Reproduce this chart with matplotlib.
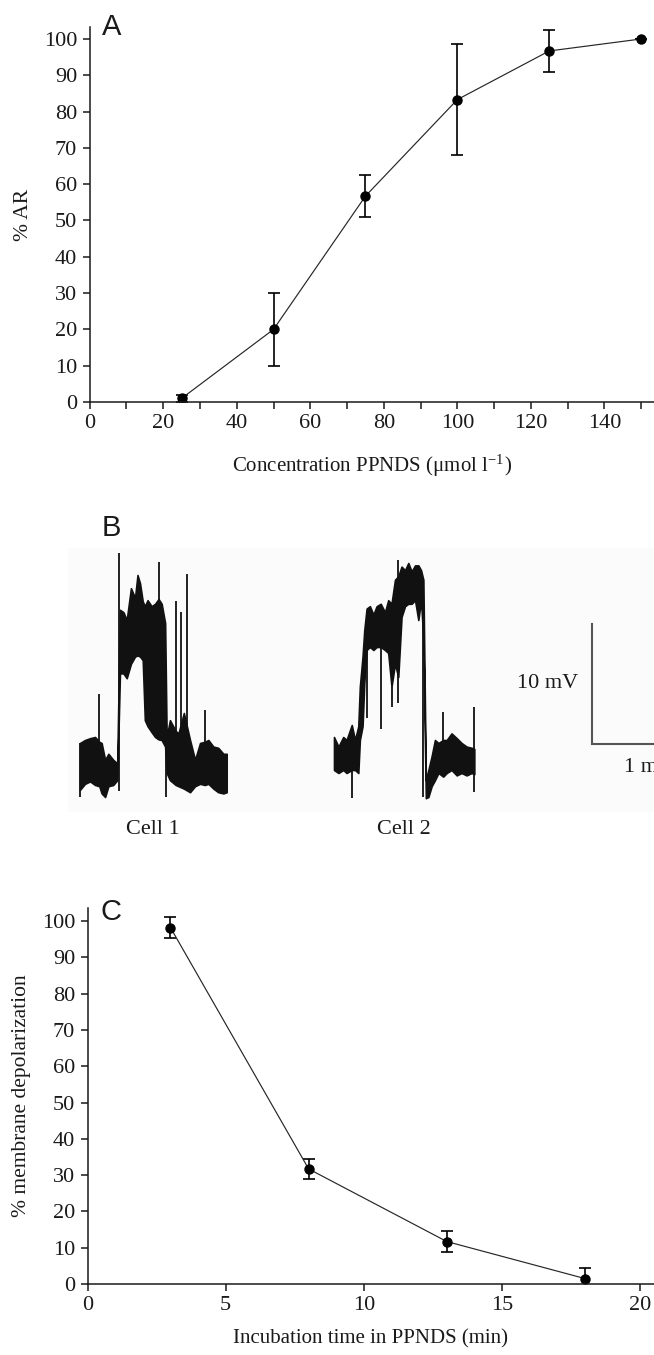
'''
Three panel figure: PPNDS dose response (A), example membrane potential
traces (B) and the effect of incubation time on depolarization (C).
'''

import matplotlib
matplotlib.use('Agg')
import matplotlib.pyplot as plt
from matplotlib.ticker import MultipleLocator

# ---- panel A : % AR vs PPNDS concentration
conc = [25, 50, 75, 100, 125, 150]
ar_pct = [1.0, 20.0, 56.7, 83.3, 96.7, 100.0]
ar_err = [1.0, 10.0, 5.8, 15.2, 5.8, 0.0]

# ---- panel C : % depolarization vs incubation time
inc_time = [3, 8, 13, 18]
depol_pct = [98.2, 31.7, 11.7, 1.5]
depol_err = [2.9, 2.8, 2.9, 2.8]

# ---- panel B : membrane potential traces (time in s, potential in mV)
# envelope of the noisy trace (lower / upper edge) plus single spikes
cell1_t = [0, 2.6, 5.2, 7.8, 10.0, 11.2, 13.0, 14.7, 17.2, 19.3,
	20.7, 22.5, 24.2, 26.4, 28.5, 29.8, 31.1, 32.5, 33.6, 35.0,
	37.1, 38.9, 40.7, 42.3, 44.1, 44.9, 46.6, 49.6, 51.0, 53.8,
	57.0, 59.6, 62.2, 64.7, 66.5, 69.1, 71.6, 74.3, 76.0]
cell1_hi = [4.5, 4.75, 4.9, 5.0, 4.6, 4.5, 3.1, 3.6, 3.1, 2.8,
	15.6, 15.4, 14.75, 17.4, 16.6, 18.5, 17.8, 16.3, 15.9, 16.4,
	15.9, 16.1, 16.5, 16.1, 14.5, 5.0, 6.4, 5.5, 5.3, 7.0,
	4.75, 3.1, 4.5, 4.6, 4.75, 4.2, 4.1, 3.6, 3.6]
cell1_lo = [0.6, 1.1, 1.3, 1.0, 0.9, 0.3, 0.0, 0.9, 1.0, 1.4,
	10.3, 10.3, 9.9, 11.1, 11.7, 11.8, 11.7, 11.4, 6.4, 5.9,
	5.4, 5.0, 4.8, 4.75, 4.2, 2.0, 1.4, 1.0, 0.9, 0.7,
	0.4, 0.9, 1.1, 1.0, 1.1, 0.7, 0.4, 0.3, 0.4]
cell1_spike_t = [0, 10.0, 20.2, 40.7, 44.5, 49.6, 52.3, 55.4, 64.7]
cell1_spike_lo = [0.0, 1.0, 0.5, 5.0, 0.0, 1.0, 1.0, 0.5, 1.1]
cell1_spike_hi = [4.5, 8.6, 20.3, 19.6, 5.0, 16.3, 15.4, 18.6, 7.25]

cell2_t = [0, 2.3, 4.8, 6.5, 9.2, 10.9, 12.6, 13.4, 14.8, 15.7,
	16.9, 18.6, 20.4, 22.1, 24.2, 26.4, 28.1, 29.8, 31.6, 33.3,
	35.0, 36.8, 38.5, 40.2, 42.0, 43.7, 45.1, 46.3, 47.6, 48.9,
	50.6, 52.3, 54.1, 56.6, 58.4, 60.9, 63.6, 66.1, 68.7, 71.3, 72.7]
cell2_hi = [5.0, 4.2, 5.0, 4.75, 6.0, 4.75, 5.9, 9.2, 11.7, 13.9,
	15.7, 15.9, 15.2, 15.9, 16.1, 15.4, 16.4, 16.1, 18.1, 18.4,
	19.2, 18.9, 19.5, 18.8, 19.3, 19.3, 18.9, 18.1, 1.4, 2.25,
	3.4, 4.75, 4.5, 4.75, 4.75, 5.3, 4.9, 4.5, 4.2, 4.1, 4.0]
cell2_lo = [2.25, 2.0, 2.25, 2.0, 2.25, 2.25, 2.0, 4.75, 5.9, 9.5,
	12.25, 12.5, 12.25, 12.5, 12.5, 12.25, 12.0, 9.2, 11.1, 10.0,
	15.0, 15.9, 16.1, 16.1, 16.4, 14.75, 16.4, 13.1, -0.1, 0.0,
	0.9, 1.4, 2.0, 1.7, 2.0, 2.25, 1.8, 2.0, 1.8, 2.0, 1.9]
cell2_spike_t = [9.2, 16.9, 24.2, 29.8, 33.3, 46.3, 56.6, 72.7]
cell2_spike_lo = [-0.1, 6.6, 5.7, 7.5, 7.8, 0.0, 2.0, 0.4]
cell2_spike_hi = [4.0, 12.25, 12.5, 9.2, 19.75, 18.1, 7.1, 7.5]

scale_mv = 10
scale_s = 60
cell_labels = ['Cell 1', 'Cell 2']

# ---- layout (pixels of the 654 x 1355 output)
W, H = 654, 1355
CELL2_OFFSET = 131.6   # s, horizontal gap between the two traces
PX_PER_S = 1.93
PX_PER_MV = 12.0

plt.rcParams['font.family'] = ['Liberation Serif', 'DejaVu Serif']
plt.rcParams['mathtext.fontset'] = 'stix'
TXT = '#1a1a1a'
FS = 16
LFS = 15


def px_axes(left, top, right, bottom):
	''' convert a pixel box to a figure fraction rect '''
	return [left / W, 1 - bottom / H, (right - left) / W, (bottom - top) / H]


def style_axes(ax):
	for side in ['top', 'right']:
		ax.spines[side].set_visible(False)
	for side in ['left', 'bottom']:
		ax.spines[side].set_linewidth(1.1)
		ax.spines[side].set_color(TXT)
	ax.tick_params(which='both', direction='out', length=5, width=1.1,
				   colors=TXT, labelsize=FS, pad=4)


def dose_plot(ax, x, y, err):
	ax.errorbar(x, y, yerr=err, fmt='o-', color='#262626', lw=0.85,
				ms=6.5, mfc='black', mec='black', ecolor='black',
				elinewidth=1.2, capsize=4.5, capthick=1.2)


fig = plt.figure(figsize=(W / 100.0, H / 100.0), dpi=100)

# ---------------- panel A
ax_a = fig.add_axes(px_axes(89.7, 27, 654, 402))
dose_plot(ax_a, conc, ar_pct, ar_err)
ax_a.set_xlim(0, 153.5)
ax_a.set_ylim(0, 103.3)
ax_a.xaxis.set_major_locator(MultipleLocator(20))
ax_a.xaxis.set_minor_locator(MultipleLocator(10))
ax_a.yaxis.set_major_locator(MultipleLocator(10))
style_axes(ax_a)
ax_a.set_ylabel('% AR', fontsize=LFS + 0.5, color=TXT)
ax_a.yaxis.set_label_coords(-0.1, 0.5)
ax_a.set_xlabel('Concentration PPNDS (μmol l$^{\\mathregular{-1}}$)',
				fontsize=LFS, color=TXT)
ax_a.xaxis.set_label_coords(0.5, -0.135)

# ---------------- panel B
ax_b = fig.add_axes(px_axes(68, 548, 654, 812))
ax_b.set_facecolor('#fbfbfb')
for side in ax_b.spines:
	ax_b.spines[side].set_visible(False)
ax_b.set_xticks([])
ax_b.set_yticks([])
ax_b.set_xlim(-12 / PX_PER_S, (654 - 80) / PX_PER_S)
ax_b.set_ylim(-15 / PX_PER_MV, 249 / PX_PER_MV)

traces = [(cell1_t, cell1_lo, cell1_hi, cell1_spike_t, cell1_spike_lo, cell1_spike_hi, 0.0),
		  (cell2_t, cell2_lo, cell2_hi, cell2_spike_t, cell2_spike_lo, cell2_spike_hi, CELL2_OFFSET)]
for i, (t, lo, hi, st, slo, shi, off) in enumerate(traces):
	tt = [v + off for v in t]
	ax_b.fill_between(tt, lo, hi, color='#111111', lw=1.2, edgecolor='#111111')
	ax_b.vlines([v + off for v in st], slo, shi, color='#111111', lw=1.3)
	ax_b.text(off + t[-1] / 2.0, -33 / PX_PER_MV, cell_labels[i], ha='center',
			  va='center', fontsize=FS, color=TXT, clip_on=False)

# scale bar
bar_t = 512 / PX_PER_S
bar_v = 53 / PX_PER_MV
ax_b.plot([bar_t, bar_t, bar_t + scale_s], [bar_v + scale_mv, bar_v, bar_v],
		  color='#555555', lw=1.5, clip_on=True, solid_joinstyle='miter')
ax_b.text(bar_t - 7, bar_v + scale_mv / 2.0, '%d mV' % scale_mv, ha='right',
		  va='center', fontsize=FS, color=TXT)
ax_b.text(bar_t + scale_s / 2.0, bar_v - 24 / PX_PER_MV, '1 min', ha='center',
		  va='center', fontsize=FS, color=TXT)

# ---------------- panel C
ax_c = fig.add_axes(px_axes(87.6, 908, 654, 1284))
dose_plot(ax_c, inc_time, depol_pct, depol_err)
ax_c.set_xlim(0, 20.5)
ax_c.set_ylim(0, 103.6)
ax_c.xaxis.set_major_locator(MultipleLocator(5))
ax_c.yaxis.set_major_locator(MultipleLocator(10))
style_axes(ax_c)
ax_c.set_ylabel('% membrane depolarization', fontsize=LFS + 0.5, color=TXT)
ax_c.yaxis.set_label_coords(-0.1, 0.5)
ax_c.set_xlabel('Incubation time in PPNDS (min)', fontsize=LFS, color=TXT)
ax_c.xaxis.set_label_coords(0.5, -0.12)

# panel letters
for letter, (x, y) in zip('ABC', [(102, 27), (102, 528), (101, 912)]):
	fig.text(x / W, 1 - y / H, letter, family='Liberation Sans', fontsize=21,
			 ha='left', va='center', color=TXT)

fig.savefig('out.png', dpi=100)
plt.close(fig)
